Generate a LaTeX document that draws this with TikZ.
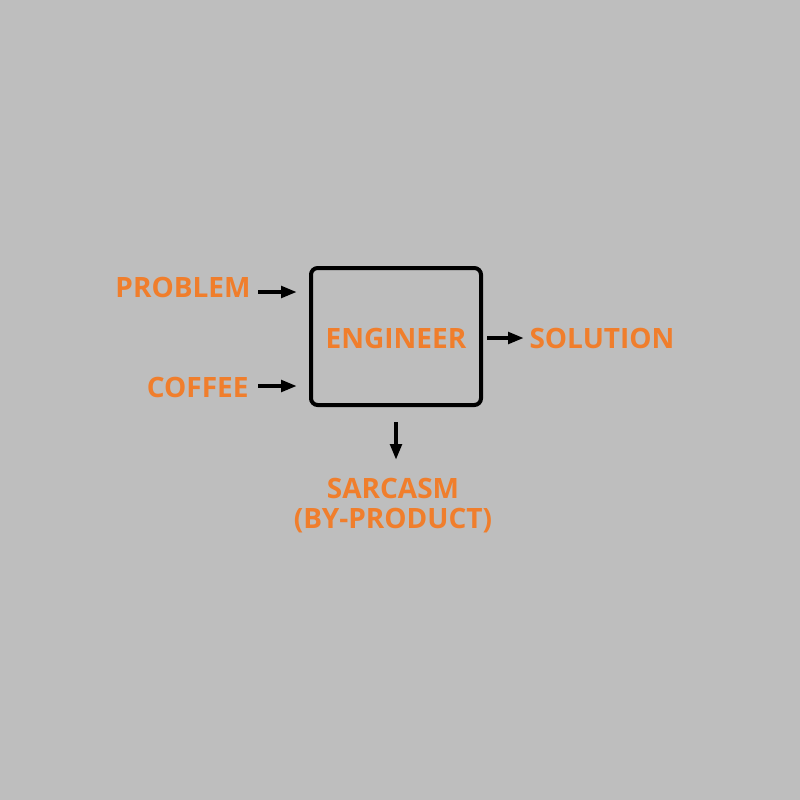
\documentclass[tikz,border=0pt]{standalone}
\usepackage{fontspec}
\setmainfont{Open Sans}
\usetikzlibrary{arrows.meta}
\definecolor{bggray}{RGB}{190,190,190}
\definecolor{labelorange}{RGB}{240,126,44}
\tikzset{every picture/.style={line width=0.75pt}}
\tikzset{
  label text/.style={text=labelorange, font=\bfseries\fontsize{21}{22.5}\selectfont, inner sep=0pt},
  flow/.style={line width=3.6pt, -{Triangle[length=12pt,width=8.5pt]}},
}

\begin{document}
\begin{tikzpicture}[x=0.75pt,y=0.75pt,yscale=-1,xscale=1]
    \fill[bggray] (0,0) rectangle (800,800);
    \useasboundingbox (0,0) rectangle (800,800);

    % Process box
    \draw[line width=3pt, rounded corners=5pt] (311,268) rectangle (481,405);
    \node[label text, anchor=base] (engineer) at (396,348) {ENGINEER};

    % Inputs
    \node[label text, anchor=base east] (problem) at (251,297) {PROBLEM};
    \node[label text, anchor=base east] (coffee) at (249,397) {COFFEE};
    % Outputs
    \node[label text, anchor=base west] (solution) at (529,348) {SOLUTION};
    \node[label text, anchor=north, align=center] (sarcasm) at (393,478) {SARCASM\\(BY-PRODUCT)};

    % Arrow ends
    \coordinate (problemout) at (258,292);
    \coordinate (problemin) at (297,292);
    \coordinate (coffeeout) at (258,386);
    \coordinate (coffeein) at (297,386);
    \coordinate (engineerright) at (487,338);
    \coordinate (solutionin) at (524,338);
    \coordinate (engineerbottom) at (396,422);
    \coordinate (sarcasmin) at (396,460);
    % Arrows
    \draw[flow] (problemout) -- (problemin);
    \draw[flow] (coffeeout) -- (coffeein);
    \draw[flow] (engineerright) -- (solutionin);
    \draw[flow] (engineerbottom) -- (sarcasmin);

\end{tikzpicture}
\end{document}
